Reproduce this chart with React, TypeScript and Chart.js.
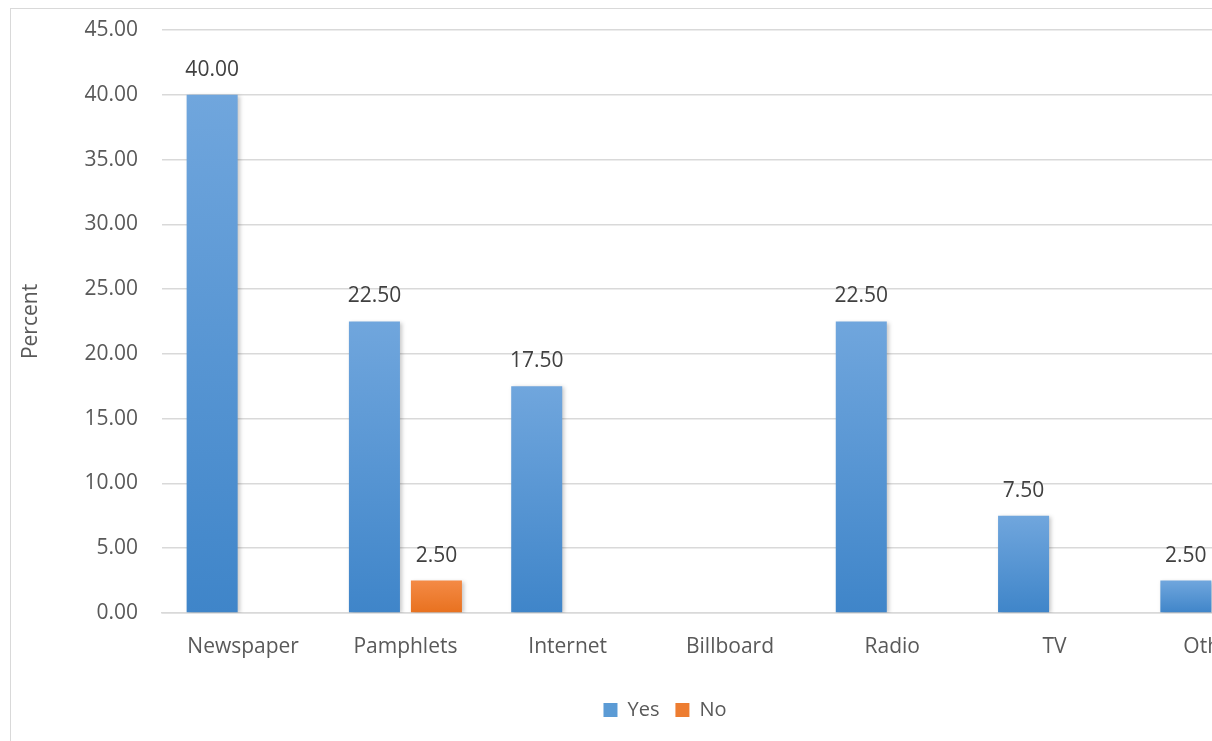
import React, { useEffect, useRef } from "react";
import { Chart, registerables } from "chart.js";

Chart.register(...registerables);

const categories = ["Newspaper", "Pamphlets", "Internet", "Billboard", "Radio", "TV", "Others"];
const yesValues = [40, 22.5, 17.5, 0, 22.5, 7.5, 2.5];
const noValues = [0, 2.5, 0, 0, 0, 0, 0];
const yMin = 0;
const yMax = 45;
const yStep = 5;

const FONT = "'Open Sans', 'DejaVu Sans', sans-serif";
const FS = 21;

function gradientFor(ctx: any, top: string, bottom: string) {
  const chart = ctx.chart;
  const ys = chart.scales && chart.scales.y;
  if (!chart.chartArea || !ys || ctx.raw == null) return bottom;
  const yTop = ys.getPixelForValue(ctx.raw);
  const yBase = ys.getPixelForValue(0);
  if (!isFinite(yTop) || !isFinite(yBase) || Math.abs(yBase - yTop) < 1) return bottom;
  const g = chart.ctx.createLinearGradient(0, yTop, 0, yBase);
  g.addColorStop(0, top);
  g.addColorStop(1, bottom);
  return g;
}

const valueLabels = {
  id: "valueLabels",
  afterDatasetsDraw(chart: any) {
    const ctx = chart.ctx;
    ctx.save();
    ctx.font = `${FS}px ${FONT}`;
    ctx.fillStyle = "#404040";
    ctx.textAlign = "center";
    ctx.textBaseline = "middle";
    chart.data.datasets.forEach((ds: any, di: number) => {
      const meta = chart.getDatasetMeta(di);
      meta.data.forEach((bar: any, i: number) => {
        const v = ds.data[i];
        if (!v) return;
        ctx.fillText(Number(v).toFixed(2), bar.x, bar.y - 25);
      });
    });
    ctx.restore();
  },
};

const barShadow = {
  id: "barShadow",
  beforeDatasetDraw(chart: any) {
    const ctx = chart.ctx;
    ctx.save();
    ctx.shadowColor = "rgba(0,0,0,0.22)";
    ctx.shadowBlur = 4;
    ctx.shadowOffsetX = 2;
    ctx.shadowOffsetY = 1;
  },
  afterDatasetDraw(chart: any) {
    chart.ctx.restore();
  },
};

export default function App() {
  const ref = useRef<HTMLCanvasElement | null>(null);

  useEffect(() => {
    if (!ref.current) return;
    const chart: any = new Chart(ref.current, {
      type: "bar",
      data: {
        labels: categories,
        datasets: [
          {
            label: "Yes",
            data: yesValues,
            backgroundColor: (c: any) => gradientFor(c, "#70a6dd", "#3f85c9"),
            borderWidth: 0,
            categoryPercentage: 0.764,
            barPercentage: 0.823,
          },
          {
            label: "No",
            data: noValues,
            backgroundColor: (c: any) => gradientFor(c, "#f48a45", "#e8711f"),
            borderWidth: 0,
            categoryPercentage: 0.764,
            barPercentage: 0.823,
          },
        ],
      },
      options: {
        animation: false,
        responsive: true,
        maintainAspectRatio: false,
        layout: { padding: { top: 21, right: 0, left: 0, bottom: 37 } },
        plugins: {
          tooltip: { enabled: false },
          title: { display: false },
          legend: {
            position: "bottom",
            labels: {
              boxWidth: 14,
              boxHeight: 14,
              padding: 16,
              color: "#595959",
              font: { family: FONT, size: 20 },
              generateLabels: (ch: any) =>
                ch.data.datasets.map((d: any, i: number) => ({
                  text: d.label,
                  fillStyle: i === 0 ? "#5b9bd5" : "#ed7d31",
                  strokeStyle: i === 0 ? "#5b9bd5" : "#ed7d31",
                  lineWidth: 0,
                  hidden: false,
                  datasetIndex: i,
                  fontColor: "#595959",
                })),
            },
          },
        },
        scales: {
          x: {
            afterFit: (s: any) => {
              s.height = 71;
            },
            grid: { display: false, drawTicks: false },
            border: { display: true, color: "#d9d9d9", width: 1.5 },
            ticks: {
              color: "#595959",
              font: { family: FONT, size: FS },
              padding: 21,
              maxRotation: 0,
              autoSkip: false,
            },
          },
          y: {
            min: yMin,
            max: yMax,
            afterFit: (s: any) => {
              s.width = 151;
              s.paddingTop = 0;
              s.paddingBottom = 0;
            },
            grid: { color: "#d9d9d9", lineWidth: 1.5, drawTicks: false },
            border: { display: false },
            ticks: {
              stepSize: yStep,
              color: "#595959",
              font: { family: FONT, size: FS },
              padding: 24,
              callback: (v: any) => Number(v).toFixed(2),
            },
            title: {
              display: true,
              text: "Percent",
              color: "#595959",
              font: { family: FONT, size: FS },
              padding: { top: 7, bottom: 0 },
            },
          },
          yRight: {
            position: "right",
            display: true,
            min: yMin,
            max: yMax,
            afterFit: (s: any) => {
              s.width = 21;
              s.paddingTop = 0;
              s.paddingBottom = 0;
            },
            grid: { display: false, drawTicks: false },
            border: { display: false },
            ticks: { display: false },
          },
        },
      },
      plugins: [barShadow, valueLabels],
    } as any);
    return () => chart.destroy();
  }, []);

  return (
    <div style={{ position: "fixed", inset: 0, overflow: "hidden", background: "#fff" }}>
      <div
        style={{
          position: "absolute",
          left: 10,
          top: 8,
          width: 1310,
          height: 760,
          border: "1px solid #d9d9d9",
          boxSizing: "border-box",
        }}
      >
        <canvas ref={ref} style={{ display: "block", width: "100%", height: "100%" }} />
      </div>
    </div>
  );
}
